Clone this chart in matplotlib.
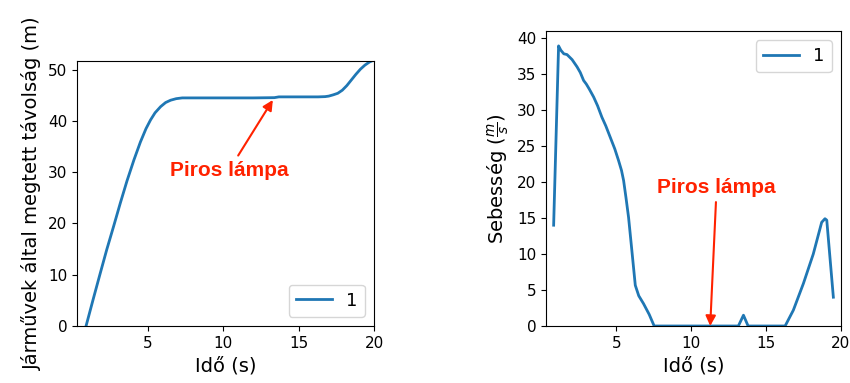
import matplotlib
matplotlib.use("Agg")
import matplotlib.pyplot as plt

# Distance travelled (left panel)
t_dist = [0.70, 0.93, 1.40, 1.87, 2.30, 2.76, 3.20, 3.64, 4.10, 4.53, 4.90, 5.20, 5.50, 5.87, 6.20, 6.53, 6.90, 7.30,
          8.5, 10.0, 12.0, 13.4, 13.7, 15.0, 16.3, 16.76, 17.0, 17.3, 17.6, 17.9, 18.2, 18.5, 18.8, 19.1, 19.4, 19.7, 20.0, 20.2]
dist = [-2.2, 0.0, 5.2, 10.3, 14.9, 19.5, 24.0, 28.3, 32.4, 35.9, 38.5, 40.2, 41.6, 42.8, 43.6, 44.05, 44.35, 44.5,
        44.5, 44.5, 44.5, 44.55, 44.7, 44.7, 44.7, 44.75, 44.85, 45.1, 45.4, 46.0, 46.9, 48.0, 49.1, 50.1, 50.9, 51.5, 51.9, 52.1]

# Speed (right panel)
t_speed = [0.82, 1.15, 1.30, 1.50, 1.71, 2.05, 2.38, 2.60, 2.82, 3.00, 3.20, 3.49, 3.75, 4.04, 4.30, 4.60, 4.90, 5.15, 5.35, 5.49, 5.65,
           5.82, 6.04, 6.27, 6.50, 6.82, 7.20, 7.53, 10.0, 13.15, 13.49, 13.80, 16.27, 16.82, 17.49, 18.15, 18.71, 18.93, 19.05, 19.49]
speed = [14.0, 38.9, 38.3, 37.8, 37.7, 37.0, 36.0, 35.2, 34.1, 33.6, 32.9, 31.8, 30.6, 29.0, 27.8, 26.2, 24.6, 23.0, 21.6, 20.2, 17.8,
         15.1, 10.5, 5.65, 4.2, 3.1, 1.6, 0.0, 0.0, 0.0, 1.5, 0.0, 0.0, 2.2, 5.9, 10.0, 14.4, 14.9, 14.7, 4.0]

series_label = "1"
xticks = [5, 10, 15, 20]
left_yticks = [0, 10, 20, 30, 40, 50]
right_yticks = [0, 5, 10, 15, 20, 25, 30, 35, 40]

line_color = "#1f77b4"
red = "#ff2200"

fig = plt.figure(figsize=(8.5, 3.83), dpi=100)
W, H = 850, 383

def px_axes(l, t, r, b):
    return fig.add_axes([l / W, (H - b) / H, (r - l) / W, (b - t) / H])

ax1 = px_axes(77, 61, 374, 326)
ax1.plot(t_dist, dist, color=line_color, lw=2, label=series_label)
ax1.set_xlim(0.33, 20.0)
ax1.set_ylim(0, 51.7)
ax1.set_xticks(xticks)
ax1.set_yticks(left_yticks)
ax1.tick_params(labelsize=11)
ax1.set_xlabel("Idő (s)", fontsize=14)
ax1.set_ylabel("Járművek által megtett távolság (m)", fontsize=14)
ax1.legend(loc="lower right", fontsize=13)
ax1.annotate("Piros lámpa", xy=(13.3, 44.1), xytext=(10.4, 30.4),
             ha="center", va="center", color=red, fontsize=15,
             fontweight="bold", family="Liberation Sans",
             arrowprops=dict(arrowstyle="-|>", color=red, lw=1.5,
                             mutation_scale=15, shrinkA=2, shrinkB=0))

ax2 = px_axes(546, 31, 841, 326)
ax2.plot(t_speed, speed, color=line_color, lw=2, label=series_label)
ax2.set_xlim(0.31, 20.0)
ax2.set_ylim(0, 40.97)
ax2.set_xticks(xticks)
ax2.set_yticks(right_yticks)
ax2.tick_params(labelsize=11)
ax2.set_xlabel("Idő (s)", fontsize=14)
ax2.set_ylabel(r"Sebesség ($\frac{m}{s}$)", fontsize=14)
ax2.legend(loc="upper right", fontsize=13)
ax2.annotate("Piros lámpa", xy=(11.27, 0.0), xytext=(11.7, 19.3),
             ha="center", va="center", color=red, fontsize=15,
             fontweight="bold", family="Liberation Sans",
             arrowprops=dict(arrowstyle="-|>", color=red, lw=1.5,
                             mutation_scale=15, shrinkA=2, shrinkB=0))

fig.savefig("out.png", dpi=100)
